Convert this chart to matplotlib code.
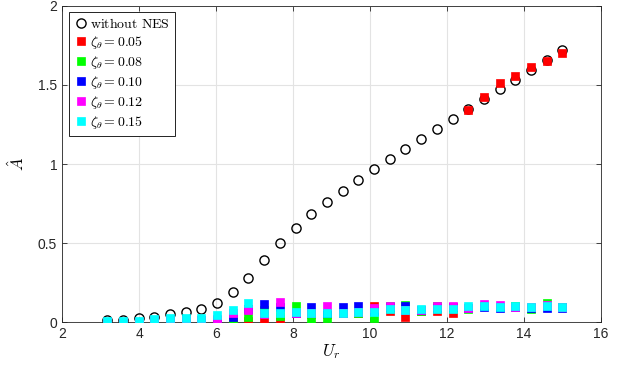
import matplotlib
matplotlib.use('Agg')
import matplotlib.pyplot as plt

plt.rcParams['font.family'] = ['Liberation Sans', 'DejaVu Sans']
plt.rcParams['mathtext.fontset'] = 'cm'

# reduced velocity
ur = [3.17, 3.58, 3.99, 4.39, 4.80, 5.21, 5.62, 6.03, 6.43, 6.84,
      7.25, 7.66, 8.07, 8.47, 8.88, 9.29, 9.70, 10.11, 10.51, 10.92,
      11.33, 11.74, 12.15, 12.55, 12.96, 13.37, 13.78, 14.19, 14.59, 15.00]

# amplitude without NES
a_plain = [0.01, 0.012, 0.025, 0.034, 0.049, 0.061, 0.08, 0.118, 0.188, 0.28,
           0.39, 0.50, 0.597, 0.684, 0.76, 0.83, 0.897, 0.966, 1.03, 1.093,
           1.158, 1.22, 1.285, 1.346, 1.41, 1.473, 1.53, 1.595, 1.66, 1.72]

# amplitudes with NES, one list per damping ratio
a_005 = [0.0, 0.0, 0.0, 0.003, 0.005, 0.005, 0.005, 0.0, 0.002, 0.004,
         0.012, 0.016, 0.06, 0.05, 0.05, 0.06, 0.06, 0.1, 0.07, 0.032,
         0.07, 0.07, 0.057, 1.34, 1.425, 1.51, 1.56, 1.615, 1.655, 1.70]
a_008 = [0.0, 0.0, 0.0, 0.005, 0.008, 0.008, 0.008, 0.008, 0.006, 0.032,
         0.075, 0.04, 0.1, 0.02, 0.028, 0.06, 0.06, 0.028, 0.1, 0.11,
         0.07, 0.1, 0.09, 0.08, 0.1, 0.095, 0.1, 0.085, 0.12, 0.095]
a_010 = [0.0, 0.0, 0.0, 0.01, 0.015, 0.013, 0.01, 0.015, 0.034, 0.085,
         0.115, 0.095, 0.06, 0.095, 0.06, 0.098, 0.103, 0.07, 0.095, 0.1,
         0.075, 0.09, 0.095, 0.09, 0.095, 0.09, 0.095, 0.09, 0.09, 0.088]
a_012 = [0.0, 0.0, 0.0, 0.012, 0.015, 0.015, 0.012, 0.02, 0.06, 0.076,
         0.05, 0.125, 0.06, 0.06, 0.1, 0.06, 0.065, 0.09, 0.1, 0.075,
         0.073, 0.1, 0.1, 0.088, 0.115, 0.11, 0.095, 0.095, 0.105, 0.095]
a_015 = [0.005, 0.005, 0.007, 0.018, 0.023, 0.023, 0.027, 0.045, 0.076, 0.118,
         0.06, 0.06, 0.066, 0.06, 0.06, 0.06, 0.065, 0.065, 0.08, 0.073,
         0.08, 0.08, 0.085, 0.1, 0.1, 0.095, 0.1, 0.095, 0.1, 0.095]

nes_series = [a_005, a_008, a_010, a_012, a_015]
nes_labels = [r'$\zeta_\theta = 0.05$', r'$\zeta_\theta = 0.08$',
              r'$\zeta_\theta = 0.10$', r'$\zeta_\theta = 0.12$',
              r'$\zeta_\theta = 0.15$']
nes_colors = ['#ff0000', '#00ff00', '#0000ff', '#ff00ff', '#00ffff']

axcol = '#262626'

fig = plt.figure(figsize=(6.24, 3.70), dpi=100)
ax = fig.add_axes([0.0994, 0.1297, 0.8636, 0.8541])

ax.plot(ur, a_plain, 'o', markersize=6.6, markerfacecolor='none',
        markeredgecolor='k', markeredgewidth=1.0,
        label=r'$\mathrm{without\ NES}$', zorder=3)
for vals, lab, col in zip(nes_series, nes_labels, nes_colors):
    ax.plot(ur, vals, 's', markersize=6.2, markerfacecolor=col,
            markeredgecolor=col, markeredgewidth=0.5, label=lab, zorder=3)

ax.set_xlim(2, 16)
ax.set_ylim(0, 2)
ax.set_xticks([2, 4, 6, 8, 10, 12, 14, 16])
ax.set_yticks([0, 0.5, 1, 1.5, 2])
ax.set_yticklabels(['0', '0.5', '1', '1.5', '2'])
ax.grid(True, color='#e3e3e3', linewidth=0.8)
ax.set_axisbelow(True)

ax.tick_params(direction='in', length=3.9, width=0.6, colors=axcol,
               labelsize=10, top=True, right=True, labelcolor='#262626')
for s in ax.spines.values():
    s.set_color(axcol)
    s.set_linewidth(0.6)

ax.set_xlabel(r'$U_r$', fontsize=12, color='k', labelpad=1)
ax.set_ylabel(r'$\hat{A}$', fontsize=12, color='k', labelpad=8)

leg = ax.legend(loc='upper left', bbox_to_anchor=(0.013, 0.981),
                borderaxespad=0, fancybox=False, framealpha=1,
                edgecolor='k', fontsize=10, handletextpad=0.15,
                handlelength=1.0, borderpad=0.35, labelspacing=0.22)
leg.get_frame().set_linewidth(0.6)

fig.savefig('out.png', dpi=100)
